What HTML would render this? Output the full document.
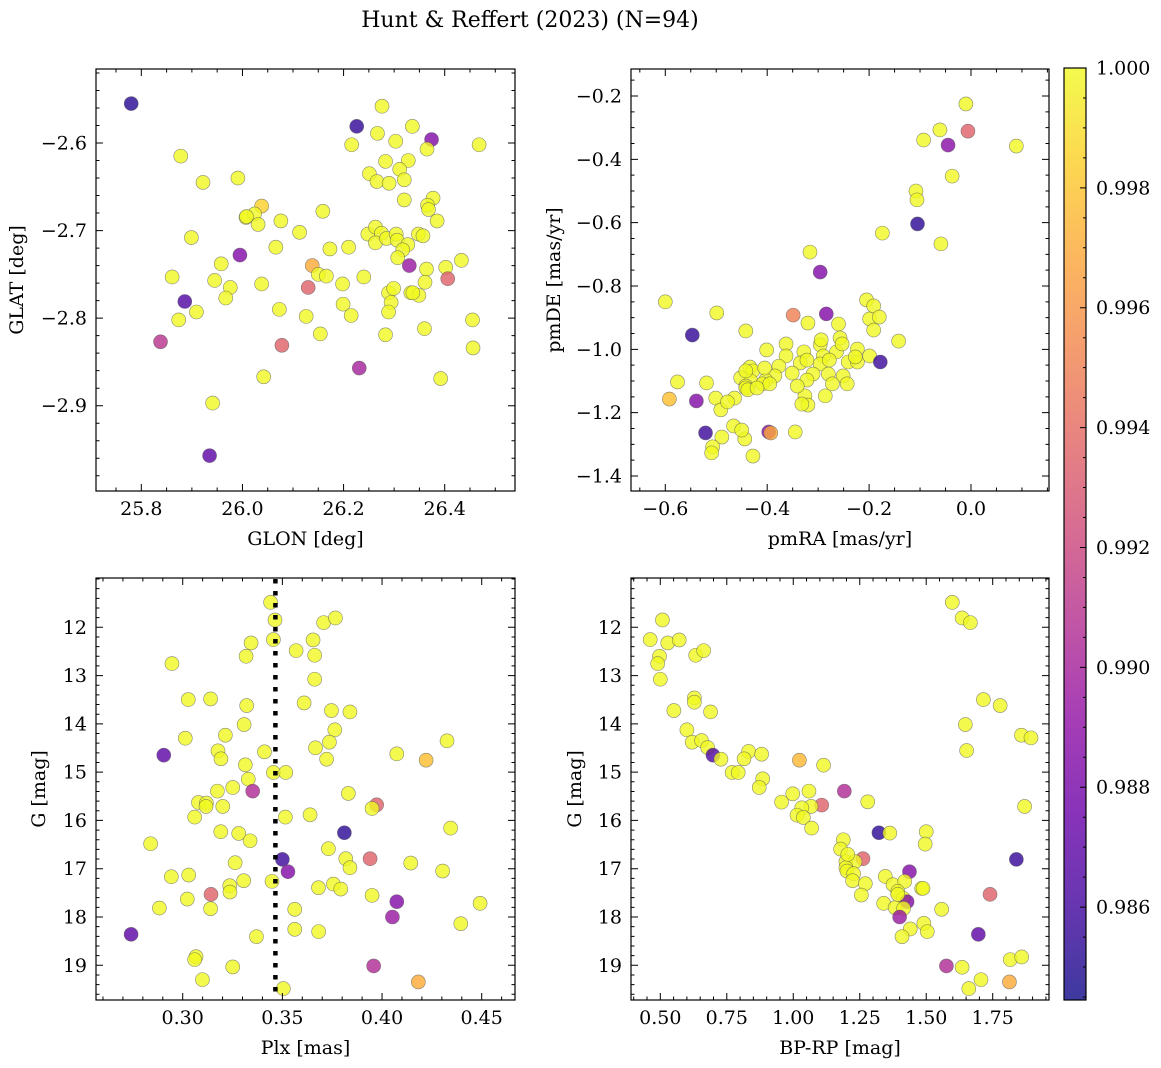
<!DOCTYPE html>
<html><head><meta charset="utf-8"><title>Hunt &amp; Reffert (2023)</title>
<style>
html,body{margin:0;padding:0;background:#fff;}
svg{display:block;font-family:"DejaVu Serif","Liberation Serif",serif;}
</style></head>
<body>
<svg id="fig" xmlns="http://www.w3.org/2000/svg" width="1161" height="1068" viewBox="0 0 1161 1068">
<defs>
<linearGradient id="plasma" x1="0" y1="1" x2="0" y2="0">
<stop offset="0" stop-color="#0d0887"/><stop offset="0.1" stop-color="#41049d"/><stop offset="0.2" stop-color="#6a00a8"/><stop offset="0.3" stop-color="#8f0da4"/><stop offset="0.4" stop-color="#b12a90"/><stop offset="0.5" stop-color="#cc4778"/><stop offset="0.6" stop-color="#e16462"/><stop offset="0.7" stop-color="#f2844b"/><stop offset="0.8" stop-color="#fca636"/><stop offset="0.9" stop-color="#fcce25"/><stop offset="1" stop-color="#f0f921"/>
</linearGradient>
</defs>
<text x="530" y="27" font-size="22" text-anchor="middle">Hunt &amp; Reffert (2023) (N=94)</text>
<g id="layer"></g>
</svg>
<script>
// ---- Panel 1: GLON / GLAT ----
const glon1=[25.780,26.276,26.226,26.336,26.267,26.374,26.303,26.216,26.468,26.365,
25.878,26.283,26.328,26.311,25.922,25.991,26.251,26.266,26.290,26.320,
26.320,26.377,26.366,26.368,26.385,26.038,26.007,26.024,26.031,26.076,
26.159,26.113,25.899,26.066,26.173,26.210,26.248,26.263,26.275,26.263,
26.285,26.304,26.306,26.327,26.317,26.348,26.357,26.307,25.995,25.958,
26.330,26.138,26.150,26.166,26.364,26.402,26.433,26.406,25.861,25.945,
25.976,25.967,26.038,26.130,26.198,26.240,26.361,26.289,26.299,26.333,
26.349,26.294,25.886,25.909,25.874,26.073,26.199,26.215,26.126,26.289,
26.154,26.283,26.360,26.455,26.456,25.838,26.078,26.231,26.042,26.392,
25.941,25.935,26.337,26.008];
const glat1=[-2.555,-2.558,-2.581,-2.581,-2.589,-2.596,-2.598,-2.602,-2.602,-2.607,
-2.615,-2.621,-2.620,-2.630,-2.645,-2.640,-2.635,-2.644,-2.646,-2.642,
-2.665,-2.663,-2.671,-2.676,-2.689,-2.672,-2.685,-2.681,-2.693,-2.689,
-2.678,-2.702,-2.708,-2.719,-2.721,-2.719,-2.704,-2.696,-2.703,-2.714,
-2.709,-2.704,-2.711,-2.716,-2.722,-2.704,-2.706,-2.731,-2.728,-2.738,
-2.740,-2.740,-2.750,-2.752,-2.744,-2.742,-2.734,-2.755,-2.753,-2.757,
-2.765,-2.777,-2.761,-2.765,-2.761,-2.753,-2.759,-2.771,-2.766,-2.771,
-2.774,-2.782,-2.781,-2.793,-2.802,-2.790,-2.784,-2.797,-2.798,-2.793,
-2.818,-2.819,-2.812,-2.802,-2.834,-2.827,-2.831,-2.857,-2.867,-2.869,
-2.897,-2.957,-2.771,-2.684];
const prob1=[.9852,1,.9855,1,1,.9885,1,1,1,1,
1,1,1,1,1,1,1,1,1,1,
1,1,1,1,1,.9985,1,1,1,1,
1,1,1,1,1,1,1,1,1,1,
1,1,1,1,1,1,1,1,.9885,1,
.9895,.997,1,1,1,1,1,.9935,1,1,
1,1,1,.9935,1,1,1,1,1,1,
1,1,.9865,1,1,1,1,1,1,1,
1,1,1,1,1,.991,.9935,.990,1,1,
1,.987,1,1];
// ---- Panel 2: pmRA / pmDE ----
const pmra2=[-0.010,-0.061,-0.093,-0.006,-0.045,0.089,-0.037,-0.108,-0.106,-0.105,
-0.059,-0.316,-0.296,-0.174,-0.600,-0.499,-0.284,-0.349,-0.442,-0.260,
-0.320,-0.363,-0.401,-0.363,-0.328,-0.335,-0.322,-0.296,-0.294,-0.290,
-0.296,-0.310,-0.351,-0.377,-0.385,-0.403,-0.434,-0.428,-0.452,-0.432,
-0.409,-0.395,-0.322,-0.326,-0.341,-0.320,-0.332,-0.257,-0.264,-0.278,
-0.253,-0.241,-0.251,-0.280,-0.272,-0.223,-0.286,-0.243,-0.199,-0.205,
-0.191,-0.180,-0.191,-0.199,-0.178,-0.142,-0.444,-0.405,-0.547,-0.539,
-0.592,-0.576,-0.519,-0.501,-0.464,-0.491,-0.478,-0.442,-0.466,-0.450,
-0.489,-0.507,-0.397,-0.393,-0.345,-0.428,-0.521,-0.509,-0.442,-0.438,
-0.223,-0.227,-0.442,-0.420];
const pmde2=[-0.225,-0.307,-0.339,-0.311,-0.355,-0.358,-0.453,-0.500,-0.528,-0.604,
-0.667,-0.693,-0.756,-0.633,-0.850,-0.885,-0.888,-0.892,-0.942,-0.920,
-0.917,-0.983,-1.002,-1.021,-1.008,-1.043,-1.034,-0.986,-0.970,-1.021,
-1.046,-1.078,-1.075,-1.053,-1.084,-1.097,-1.056,-1.068,-1.090,-1.100,
-1.109,-1.109,-1.097,-1.147,-1.116,-1.176,-1.173,-0.964,-1.008,-1.034,
-0.983,-1.040,-1.084,-1.078,-1.109,-1.040,-1.147,-1.109,-0.904,-0.844,
-0.863,-0.898,-0.939,-1.021,-1.040,-0.974,-1.283,-1.059,-0.955,-1.163,
-1.157,-1.103,-1.106,-1.154,-1.154,-1.191,-1.166,-1.116,-1.242,-1.255,
-1.277,-1.308,-1.261,-1.264,-1.261,-1.337,-1.264,-1.327,-1.122,-1.128,
-0.999,-1.024,-1.068,-1.122];
const prob2=[1,1,1,.9935,.9888,1,1,1,1,.9853,
1,1,.9885,1,1,1,.9885,.995,1,1,
1,1,1,1,1,1,1,1,1,1,
1,1,1,1,1,1,1,1,1,1,
1,1,1,1,1,1,1,1,1,1,
1,1,1,1,1,1,1,1,1,1,
1,1,1,1,.9858,1,1,1,.9855,.9885,
.9978,1,1,1,1,1,1,1,1,1,
1,1,.9888,.997,1,1,.9858,1,1,1,
1,1,1,1];
// ---- Panel 3: Plx / G ----
const plx3=[.3441,.3463,.3455,.3343,.3318,.2946,.3569,.3654,.3707,.3766,
.3662,.3662,.3028,.3140,.3321,.3609,.3746,.3839,.3308,.3763,
.3013,.3214,.3736,.3666,.4326,.4074,.4221,.3722,.2905,.3177,
.3192,.3410,.3314,.3455,.3517,.3329,.3251,.3174,.3351,.3831,
.3079,.3119,.3117,.3201,.3973,.3950,.3060,.3515,.3639,.4344,
.3811,.3191,.3281,.3338,.2839,.3731,.3500,.3940,.3818,.3839,
.4144,.3263,.3528,.4304,.2943,.3030,.3306,.3236,.3237,.3448,
.3681,.3756,.3793,.3142,.3023,.3950,.4074,.4492,.2883,.3140,
.3562,.4052,.4395,.2741,.3370,.3562,.3682,.3067,.3060,.3251,
.3958,.3099,.4182,.3505];
const gmag3=[11.483,11.848,12.255,12.324,12.600,12.752,12.483,12.262,11.903,11.807,
12.579,13.076,13.497,13.483,13.621,13.566,13.724,13.752,14.014,14.124,
14.297,14.234,14.379,14.497,14.352,14.621,14.752,14.731,14.648,14.559,
14.724,14.579,14.848,15.007,15.007,15.145,15.317,15.393,15.393,15.441,
15.628,15.641,15.710,15.710,15.676,15.752,15.931,15.931,15.883,16.159,
16.255,16.234,16.269,16.421,16.483,16.586,16.807,16.793,16.793,16.979,
16.883,16.876,17.062,17.048,17.166,17.131,17.248,17.352,17.483,17.262,
17.393,17.317,17.421,17.531,17.628,17.552,17.683,17.717,17.814,17.828,
17.841,18.000,18.138,18.359,18.407,18.255,18.303,18.821,18.883,19.034,
19.014,19.297,19.345,19.483];
const prob3=[1,1,1,1,1,1,1,1,1,1,
1,1,1,1,1,1,1,1,1,1,
1,1,1,1,1,1,.9978,1,.987,1,
1,1,1,1,1,1,1,1,.9905,1,
1,1,1,1,.9935,1,1,1,1,1,
.9853,1,1,1,1,1,.9858,.9935,1,1,
1,1,.9885,1,1,1,1,1,1,1,
1,1,1,.9935,1,1,.9885,1,1,1,
1,.9895,1,.987,1,1,1,1,1,1,
.9905,1,.997,1];
const plxRef=[0.3465];
// ---- Panel 4: BP-RP / G ----
const bprp4=[1.598,1.635,1.666,.508,.462,.528,.571,.633,.663,.497,
.490,.500,.628,.628,.551,.689,1.715,1.778,1.647,1.858,
1.894,1.652,.600,.620,.655,.678,.698,.728,.832,.881,
.815,1.023,1.114,.770,.793,.885,.872,1.192,1.059,.998,
.956,1.280,1.107,1.067,1.032,1.014,1.038,1.069,1.870,1.322,
1.363,1.500,1.496,1.188,1.178,1.839,1.262,1.198,1.232,1.198,
1.202,1.227,1.223,1.271,1.256,1.437,1.346,1.375,1.419,1.483,
1.488,1.393,1.414,1.428,1.340,1.383,1.415,1.400,1.558,1.740,
1.491,1.504,1.440,1.409,1.696,1.576,1.635,1.816,1.859,1.706,
1.660,1.813,1.393,1.205];
const gmag4=[11.483,11.807,11.903,11.848,12.255,12.324,12.262,12.579,12.483,12.600,
12.752,13.076,13.462,13.552,13.724,13.752,13.497,13.621,14.014,14.234,
14.290,14.552,14.124,14.379,14.345,14.490,14.648,14.731,14.572,14.628,
14.724,14.752,14.855,15.007,15.007,15.138,15.317,15.393,15.393,15.448,
15.621,15.614,15.683,15.710,15.738,15.890,15.938,16.159,15.710,16.255,
16.262,16.234,16.490,16.400,16.593,16.807,16.793,16.855,16.855,16.979,
17.048,17.103,17.248,17.310,17.545,17.062,17.159,17.331,17.262,17.407,
17.407,17.469,17.614,17.683,17.717,17.807,17.821,18.000,17.841,17.531,
18.131,18.303,18.248,18.407,18.359,19.014,19.041,18.883,18.828,19.297,
19.483,19.345,17.531,16.703];
const prob4=[1,1,1,1,1,1,1,1,1,1,
1,1,1,1,1,1,1,1,1,1,
1,1,1,1,1,1,.9865,1,1,1,
1,.9975,1,1,1,1,1,.9905,1,1,
1,1,.9935,1,1,1,1,1,1,.9853,
1,1,1,1,1,.9856,.9935,1,1,1,
1,1,1,1,1,.9885,1,1,1,1,
1,1,1,.9885,1,1,1,.9895,1,.9935,
1,1,1,1,.987,.9905,1,1,1,1,
1,.997,1,1];
// ---- tick values / labels ----
const xt1=[25.8,26.0,26.2,26.4], xl1=["25.8","26.0","26.2","26.4"];
const yt1=[-2.6,-2.7,-2.8,-2.9], yl1=["\u22122.6","\u22122.7","\u22122.8","\u22122.9"];
const xt2=[-0.6,-0.4,-0.2,0.0], xl2=["\u22120.6","\u22120.4","\u22120.2","0.0"];
const yt2=[-0.2,-0.4,-0.6,-0.8,-1.0,-1.2,-1.4], yl2=["\u22120.2","\u22120.4","\u22120.6","\u22120.8","\u22121.0","\u22121.2","\u22121.4"];
const xt3=[0.30,0.35,0.40,0.45], xl3=["0.30","0.35","0.40","0.45"];
const ytG=[12,13,14,15,16,17,18,19], ylG=["12","13","14","15","16","17","18","19"];
const xt4=[0.5,0.75,1.0,1.25,1.5,1.75], xl4=["0.50","0.75","1.00","1.25","1.50","1.75"];
const cbt=[0.986,0.988,0.990,0.992,0.994,0.996,0.998,1.000], cbl=["0.986","0.988","0.990","0.992","0.994","0.996","0.998","1.000"];
const cbDomain=[0.98445,1.0];

const FS=19;
const NS="http://www.w3.org/2000/svg";
const layer=document.getElementById('layer');
function mk(tag,attrs,parent){const e=document.createElementNS(NS,tag);for(const k in attrs)e.setAttribute(k,attrs[k]);(parent||layer).appendChild(e);return e;}
function scale(d0,d1,p0,p1){return v=>p0+(v-d0)/(d1-d0)*(p1-p0);}
const PL=["#0d0887","#41049d","#6a00a8","#8f0da4","#b12a90","#cc4778","#e16462","#f2844b","#fca636","#fcce25","#f0f921"];
function hx(c){return [parseInt(c.slice(1,3),16),parseInt(c.slice(3,5),16),parseInt(c.slice(5,7),16)];}
function plasma(t){t=Math.max(0,Math.min(1,t));const f=t*10,i=Math.min(9,Math.floor(f)),u=f-i;const a=hx(PL[i]),b=hx(PL[i+1]);return 'rgb('+a.map((v,k)=>Math.round(v+(b[k]-v)*u)).join(',')+')';}

function panel(name,box,xd,yd,xt,xl,xminor,yt,yl,yminor,xs,ys,ps,xtitle,ytitle,ytx){
  const g=mk('g',{});
  
  
  const X=scale(xd[0],xd[1],box.l,box.r), Y=scale(yd[0],yd[1],box.b,box.t);
  for(let i=0;i<xs.length;i++){
    const c=mk('circle',{cx:X(xs[i]),cy:Y(ys[i]),r:7,fill:plasma((ps[i]-cbDomain[0])/(cbDomain[1]-cbDomain[0])),'fill-opacity':0.8,stroke:'#5a5a5a','stroke-width':0.6,'stroke-opacity':0.7},g);
    
    
  }
  const fr=mk('rect',{x:box.l,y:box.t,width:box.r-box.l,height:box.b-box.t,fill:'none',stroke:'#000','stroke-width':1.2},g);
  
  
  let d='';
  const lo=Math.min(xd[0],xd[1]),hi=Math.max(xd[0],xd[1]);
  for(let k=Math.ceil(lo/xminor-1e-6);k*xminor<=hi;k++){const v=k*xminor;const px=X(v);const maj=xt.some(t=>Math.abs(t-v)<xminor/3);const L=maj?7:3.5;d+=`M${px},${box.b}v${-L}M${px},${box.t}v${L}`;}
  const ylo=Math.min(yd[0],yd[1]),yhi=Math.max(yd[0],yd[1]);
  for(let k=Math.ceil(ylo/yminor-1e-6);k*yminor<=yhi;k++){const v=k*yminor;const py=Y(v);const maj=yt.some(t=>Math.abs(t-v)<yminor/3);const L=maj?7:3.5;d+=`M${box.l},${py}h${L}M${box.r},${py}h${-L}`;}
  const tk=mk('path',{d:d,stroke:'#000','stroke-width':1,fill:'none'},g);
  
  
  for(let i=0;i<xt.length;i++){
    const t=mk('text',{x:X(xt[i]),y:box.b+24,'font-size':FS,'text-anchor':'middle'},g);t.textContent=xl[i];
    
    
  }
  for(let i=0;i<yt.length;i++){
    const t=mk('text',{x:box.l-9,y:Y(yt[i])+6.5,'font-size':FS,'text-anchor':'end'},g);t.textContent=yl[i];
    
    
  }
  const xtt=mk('text',{x:(box.l+box.r)/2,y:box.b+54,'font-size':FS,'text-anchor':'middle'},g);xtt.textContent=xtitle;
  
  
  const cy=(box.t+box.b)/2;
  const ytt=mk('text',{x:ytx,y:cy,'font-size':FS,'text-anchor':'middle',transform:`rotate(-90 ${ytx} ${cy})`},g);ytt.textContent=ytitle;
  
  
  return {X,Y,g};
}

panel('panel-glon-glat',{l:96,r:515,t:69,b:491},[25.7104,26.539],[-2.9974,-2.5155],xt1,xl1,0.05,yt1,yl1,0.02,glon1,glat1,prob1,'GLON [deg]','GLAT [deg]',23);
panel('panel-proper-motion',{l:631,r:1049,t:69,b:491},[-0.6673,0.1531],[-1.4474,-0.1147],xt2,xl2,0.05,yt2,yl2,0.05,pmra2,pmde2,prob2,'pmRA [mas/yr]','pmDE [mas/yr]',560);
const p3=panel('panel-plx-g',{l:96,r:515,t:578,b:1000},[0.2565,0.4667],[19.719,10.979],xt3,xl3,0.01,ytG,ylG,0.2,plx3,gmag3,prob3,'Plx [mas]','G [mag]',45);
panel('panel-cmd',{l:631,r:1049,t:578,b:1000},[0.3898,1.9617],[19.719,10.979],xt4,xl4,0.05,ytG,ylG,0.2,bprp4,gmag4,prob4,'BP-RP [mag]','G [mag]',581);
const rl=mk('line',{x1:p3.X(plxRef[0]),x2:p3.X(plxRef[0]),y1:579,y2:999,stroke:'#000','stroke-width':4.5,'stroke-dasharray':'4.5 7.5'});



const cb={l:1064,r:1086,t:68,b:1000};
const CY=scale(cbDomain[0],cbDomain[1],cb.b,cb.t);
const cbr=mk('rect',{x:cb.l,y:cb.t,width:cb.r-cb.l,height:cb.b-cb.t,fill:'url(#plasma)','fill-opacity':0.8});


const cbf=mk('rect',{x:cb.l,y:cb.t,width:cb.r-cb.l,height:cb.b-cb.t,fill:'none',stroke:'#000','stroke-width':1.2});


let cd='';
for(let k=Math.ceil(cbDomain[0]/0.0005);k*0.0005<=cbDomain[1]+1e-9;k++){const v=k*0.0005;const maj=cbt.some(t=>Math.abs(t-v)<0.0001);cd+=`M${cb.r},${CY(v)}h${maj?-6:-3}`;}
const cbtk=mk('path',{d:cd,stroke:'#000','stroke-width':1,fill:'none'});


for(let i=0;i<cbt.length;i++){
  const t=mk('text',{x:cb.r+10,y:CY(cbt[i])+6.5,'font-size':FS});t.textContent=cbl[i];
  
  
}
</script>
</body></html>
